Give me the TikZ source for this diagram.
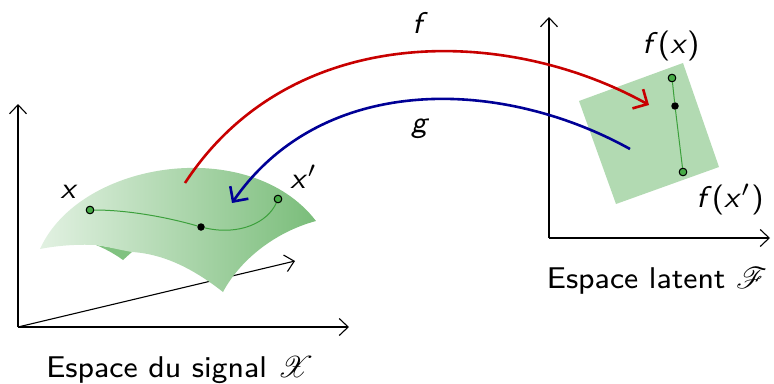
\documentclass[tikz,border=0pt]{standalone}
\usepackage{mathrsfs}
\usetikzlibrary{arrows.meta}
\definecolor{redf}{RGB}{200,0,0}
\definecolor{blueg}{RGB}{0,0,150}
\definecolor{patch}{RGB}{178,218,178}
\definecolor{gdark}{RGB}{122,189,122}
\definecolor{glight}{RGB}{226,241,226}
\definecolor{foldg}{RGB}{128,194,128}
\definecolor{pathg}{RGB}{60,160,60}
\definecolor{dotg}{RGB}{70,170,70}
\begin{document}
\begin{tikzpicture}[x=1pt,y=-1pt,
  axis/.style={line width=1.1pt,-{Straight Barb[length=9pt,width=17pt]}},
  mapf/.style={line width=2.6pt,-{Straight Barb[length=11pt,width=22pt]}},
  lbl/.style={font=\fontsize{8}{10}\selectfont\sffamily, inner sep=0pt, anchor=base, scale=3.75},
  gdot/.style={circle,draw=black,fill=dotg,inner sep=0pt,minimum size=7.5pt,line width=0.9pt},
  bdot/.style={circle,fill=black,inner sep=0pt,minimum size=7.5pt},
]
\useasboundingbox (0,0) rectangle (774,383);
% left axes
\coordinate (O1) at (18,327);
\coordinate (Y1) at (18,104);
\coordinate (X1) at (349,327);
\coordinate (Z1) at (295,261);
\draw[axis] (O1) -- (Y1);
\draw[axis] (O1) -- (X1);
\draw[axis] (O1) -- (Z1);
% right axes
\coordinate (O2) at (549,238);
\coordinate (Y2) at (549,17);
\coordinate (X2) at (770,238);
\draw[axis] (O2) -- (Y2);
\draw[axis] (O2) -- (X2);
% fold
\fill[foldg] (96,245) .. controls (108,250) and (116,255) .. (123,260) -- (133,251) -- cycle;
% surface
\shade[left color=glight,right color=gdark]
  (40,249) .. controls (80,160) and (250,135) .. (316,221)
  .. controls (275,232) and (240,260) .. (223,292)
  .. controls (195,270) and (165,254) .. (132,252)
  .. controls (115,249) and (105,246) .. (96,245)
  .. controls (75,244) and (55,246) .. (40,249) -- cycle;
% path on surface
\node[gdot] (xa) at (90,210) {};
\node[bdot] (xm) at (201,227) {};
\node[gdot] (xb) at (278,199) {};
\draw[pathg,line width=1pt] (xa) .. controls (130,210) and (170,218) .. (xm)
  .. controls (240,236) and (268,222) .. (xb);
\node[gdot] at (90,210) {};
\node[gdot] at (278,199) {};
\node[lbl] (lx) at (69,198) {\textit{x}};
\node[lbl] (lxp) at (304,188) {\textit{x}$'$};
% latent patch
\fill[patch] (579,101) -- (683,63) -- (719,167) -- (616,204) -- cycle;
\node[gdot] (fa) at (672,78) {};
\node[bdot] (fm) at (675,106) {};
\node[gdot] (fb) at (683,172) {};
\draw[pathg,line width=1pt] (fa) -- (fm) -- (fb);
\node[gdot] at (672,78) {};
\node[gdot] at (683,172) {};
\node[lbl] (lfx) at (671,53) {\textit{f}(\textit{x})};
\node[lbl] (lfxp) at (730,207) {\textit{f}(\textit{x}$'$)};
% maps
\coordinate (fs) at (185,183);
\coordinate (fe) at (649,105);
\coordinate (gs) at (630,149);
\coordinate (ge) at (232,203);
\draw[mapf,redf] (fs) .. controls (290,22) and (505,25) .. (fe);
\draw[mapf,blueg] (gs) .. controls (500,77) and (322,73) .. (ge);
\node[lbl] (lf) at (420,33) {\textit{f}};
\node[lbl] (lg) at (420,132) {\textit{g}};
% captions
\node[lbl] (c1) at (180,377) {Espace du signal $\mathscr{X}$};
\node[lbl] (c2) at (657,288) {Espace latent $\mathscr{F}$};
\end{tikzpicture}
\end{document}
